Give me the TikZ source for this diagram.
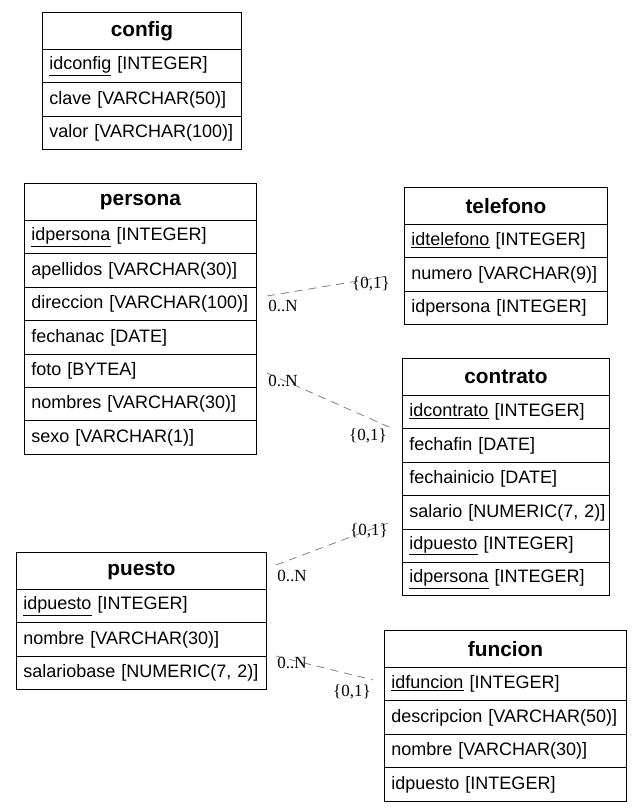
\documentclass[tikz,border=0pt]{standalone}
\usepackage{fontspec}
\setmainfont{Liberation Sans}
\newfontfamily\cardfont{Liberation Serif}
\usepackage{tikz}
\usetikzlibrary{positioning}

\begin{document}
\begin{tikzpicture}[x=1pt, y=-1pt, line width=0.9pt,
    tabhead/.style={draw, anchor=north west, minimum width=#1, minimum height=37pt,
      inner sep=0pt, font=\bfseries\fontsize{20.8}{24}\selectfont},
    tabrow/.style={draw, anchor=north west, minimum height=33.4pt, inner xsep=7pt,
      inner ysep=0pt, text width=#1, align=left, font=\fontsize{18}{21}\selectfont},
    relline/.style={draw=gray, line width=0.8pt, dash pattern=on 8pt off 6pt},
    card/.style={inner sep=0pt, font=\cardfont\fontsize{17}{20}\selectfont}]
    \useasboundingbox (0,0) rectangle (641,811);

    % config
    \node[tabhead=199pt] (config) at (42,12) {config};
    \foreach \f [count=\i] in {\underline{idconfig} [INTEGER], clave [VARCHAR(50)],
        valor [VARCHAR(100)]}
      \node[tabrow=185pt] (config-\i) at (42,{49+(\i-1)*33.4}) {\mbox{\f}};

    % persona
    \node[tabhead=232pt] (persona) at (24,183) {persona};
    \foreach \f [count=\i] in {\underline{idpersona} [INTEGER], apellidos [VARCHAR(30)],
        direccion [VARCHAR(100)], fechanac [DATE], foto [BYTEA],
        nombres [VARCHAR(30)], sexo [VARCHAR(1)]}
      \node[tabrow=218pt] (persona-\i) at (24,{220+(\i-1)*33.4}) {\mbox{\f}};

    % telefono
    \node[tabhead=203pt] (telefono) at (404,187) {telefono};
    \foreach \f [count=\i] in {\underline{idtelefono} [INTEGER], numero [VARCHAR(9)],
        idpersona [INTEGER]}
      \node[tabrow=189pt] (telefono-\i) at (404,{224+(\i-1)*33.4}) {\mbox{\f}};

    % contrato
    \node[tabhead=207pt] (contrato) at (402,358) {contrato};
    \foreach \f [count=\i] in {\underline{idcontrato} [INTEGER], fechafin [DATE],
        fechainicio [DATE], {salario [NUMERIC(7, 2)]}, \underline{idpuesto} [INTEGER],
        \underline{idpersona} [INTEGER]}
      \node[tabrow=193pt] (contrato-\i) at (402,{395+(\i-1)*33.4}) {\mbox{\f}};

    % puesto
    \node[tabhead=250pt] (puesto) at (16,552) {puesto};
    \foreach \f [count=\i] in {\underline{idpuesto} [INTEGER], nombre [VARCHAR(30)],
        {salariobase [NUMERIC(7, 2)]}}
      \node[tabrow=236pt] (puesto-\i) at (16,{589+(\i-1)*33.4}) {\mbox{\f}};

    % funcion
    \node[tabhead=242pt] (funcion) at (384,630) {funcion};
    \foreach \f [count=\i] in {\underline{idfuncion} [INTEGER], descripcion [VARCHAR(50)],
        nombre [VARCHAR(30)], idpuesto [INTEGER]}
      \node[tabrow=228pt] (funcion-\i) at (384,{667+(\i-1)*33.4}) {\mbox{\f}};

    % relaciones
    \coordinate (per-tel-a) at (267,296);
    \coordinate (per-tel-b) at (388,276);
    \coordinate (per-con-a) at (267,373);
    \coordinate (per-con-b) at (389,427);
    \coordinate (pue-con-a) at (276,565);
    \coordinate (pue-con-b) at (388,523);
    \coordinate (pue-fun-a) at (276,656);
    \coordinate (pue-fun-b) at (373,680);
    \draw[relline] (per-tel-a) -- (per-tel-b);
    \draw[relline] (per-con-a) -- (per-con-b);
    \draw[relline] (pue-con-a) -- (pue-con-b);
    \draw[relline] (pue-fun-a) -- (pue-fun-b);

    \node[card] (per-tel-n) at (283,306) {0..N};
    \node[card] (per-tel-1) at (371,284) {\{0,1\}};
    \node[card] (per-con-n) at (283,381) {0..N};
    \node[card] (per-con-1) at (368,436) {\{0,1\}};
    \node[card] (pue-con-n) at (292,576) {0..N};
    \node[card] (pue-con-1) at (369,531) {\{0,1\}};
    \node[card] (pue-fun-n) at (292,663) {0..N};
    \node[card] (pue-fun-1) at (352,692) {\{0,1\}};
\end{tikzpicture}
\end{document}
